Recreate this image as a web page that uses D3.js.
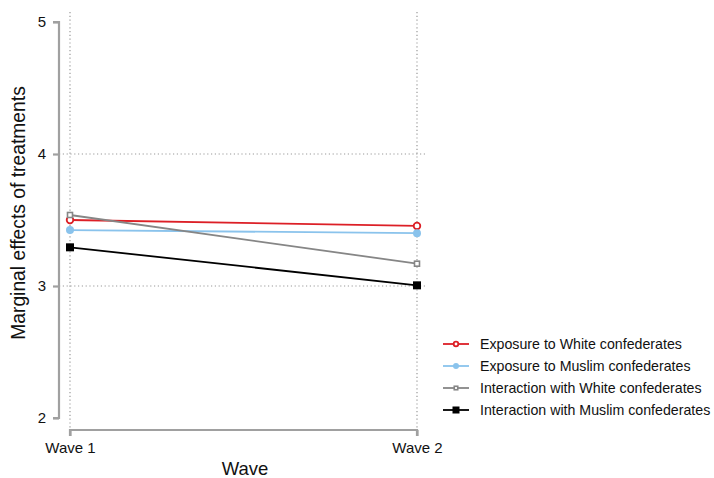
<!DOCTYPE html>
<html><head><meta charset="utf-8">
<script src="https://cdn.jsdelivr.net/npm/d3@7"></script>
<style>body{margin:0;background:#fff}svg{display:block}text{font-family:"Liberation Sans",Arial,sans-serif;fill:#111}</style>
</head><body><svg id="c" width="714" height="478"></svg>
<script>
const waves = ["Wave 1", "Wave 2"];
const seriesNames = ["Exposure to White confederates","Exposure to Muslim confederates","Interaction with White confederates","Interaction with Muslim confederates"];
const whiteExposure = [3.50, 3.455];
const muslimExposure = [3.424, 3.40];
const whiteInteraction = [3.538, 3.169];
const muslimInteraction = [3.293, 3.005];
const yTicks = [2, 3, 4, 5];
const gridY = [3, 4];

const svg = d3.select("#c");
const x = d3.scalePoint().domain(waves).range([70, 417]);
const y = d3.scaleLinear().domain([2, 5]).range([418, 22]);
const axisCol = "#a0a0a0";

// grid
const g = svg.append("g");
waves.forEach(w => g.append("line").attr("x1", x(w)).attr("x2", x(w)).attr("y1", 12).attr("y2", 430)
  .attr("stroke", "#999").attr("stroke-width", 1.2).attr("stroke-dasharray", "1.2,2.6"));
gridY.forEach(v => g.append("line").attr("x1", 59).attr("x2", 427).attr("y1", y(v)).attr("y2", y(v))
  .attr("stroke", "#999").attr("stroke-width", 1.2).attr("stroke-dasharray", "1.2,2.6"));

// axes
const ya = svg.append("g").attr("transform", "translate(59,0)")
  .call(d3.axisLeft(y).tickValues(yTicks).tickFormat(d3.format("d")).tickSize(6).tickPadding(7));
const xa = svg.append("g").attr("transform", "translate(0,430)")
  .call(d3.axisBottom(x).tickSize(6).tickPadding(6));
[ya, xa].forEach(a => {
  a.select(".domain").attr("stroke", axisCol).attr("stroke-width", 2.2);
  a.selectAll(".tick line").attr("stroke", axisCol).attr("stroke-width", 2.2);
  a.selectAll(".tick text").attr("font-size", 15).attr("fill", "#111").attr("font-family", "Liberation Sans, Arial, sans-serif");
});
ya.select(".domain").attr("d", "M-6,22H0V418H-6");
xa.select(".domain").attr("d", "M70,6V0H417V6");

svg.append("text").attr("x", 245).attr("y", 475).attr("text-anchor", "middle").attr("font-size", 18.5).text("Wave");
svg.append("text").attr("transform", "translate(25,213) rotate(-90)").attr("text-anchor", "middle").attr("font-size", 19.3).text("Marginal effects of treatments");

const series = [
  {name: seriesNames[0], vals: whiteExposure, color: "#dc1f26", shape: "circle", fill: "#fff", size: 3.3, lsize: 2.3},
  {name: seriesNames[1], vals: muslimExposure, color: "#8ac3ec", shape: "circle", fill: "#8ac3ec", size: 4, lsize: 3},
  {name: seriesNames[2], vals: whiteInteraction, color: "#868686", shape: "square", fill: "#fff", size: 6.5, lsize: 5},
  {name: seriesNames[3], vals: muslimInteraction, color: "#000", shape: "square", fill: "#000", size: 8, lsize: 7}
];
const line = d3.line().x((d, i) => x(waves[i])).y(d => y(d));
function marker(sel, s, cx, cy, sz) {
  if (s.shape === "circle") {
    sel.append("circle").attr("cx", cx).attr("cy", cy).attr("r", sz)
      .attr("fill", s.fill).attr("stroke", s.color).attr("stroke-width", s.fill === "#fff" ? 1.8 : 0);
  } else {
    const hollow = s.fill === "#fff";
    const h = hollow ? sz - 1.5 : sz;
    sel.append("rect").attr("x", cx - h / 2).attr("y", cy - h / 2).attr("width", h).attr("height", h)
      .attr("fill", s.fill).attr("stroke", s.color).attr("stroke-width", hollow ? 1.6 : 0);
  }
}
series.forEach(s => {
  svg.append("path").attr("d", line(s.vals)).attr("fill", "none").attr("stroke", s.color).attr("stroke-width", 1.8);
});
series.forEach(s => {
  s.vals.forEach((v, i) => marker(svg, s, x(waves[i]), y(v), s.size));
});

// legend
const legY = [344, 366, 388, 410];
series.forEach((s, i) => {
  const ly = legY[i];
  svg.append("line").attr("x1", 443).attr("x2", 469).attr("y1", ly).attr("y2", ly).attr("stroke", s.color).attr("stroke-width", 1.8);
  marker(svg, s, 456, ly, s.lsize);
  svg.append("text").attr("x", 480).attr("y", ly + 5).attr("font-size", 14.2).text(s.name);
});
</script></body></html>
